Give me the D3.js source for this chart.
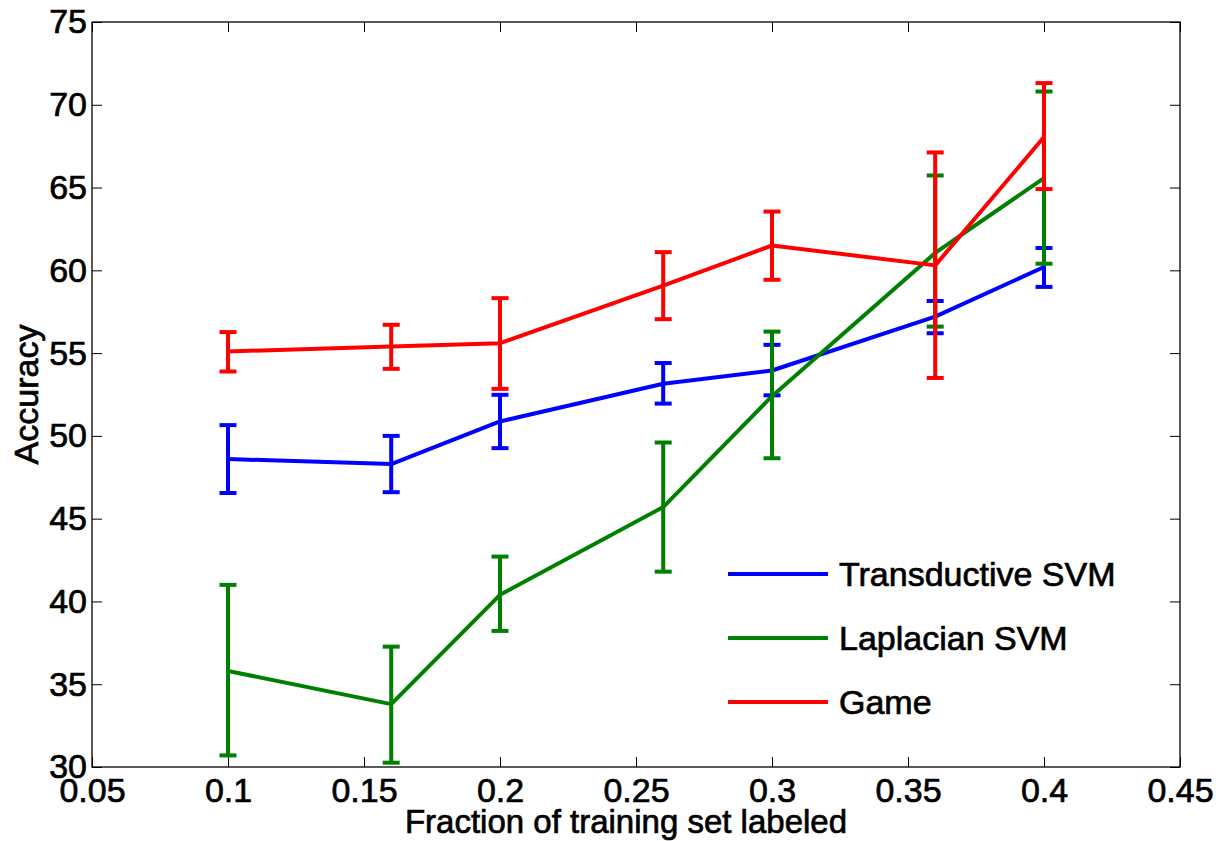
<!DOCTYPE html>
<html>
<head>
<meta charset="utf-8">
<script src="https://cdn.jsdelivr.net/npm/d3@7"></script>
<style>
  body { margin: 0; background: #fff; }
  text { font-family: "Liberation Sans", Arial, Helvetica, sans-serif; fill: #000; stroke: #000; stroke-width: 0.7px; }
</style>
</head>
<body>
<div id="chart"></div>
<script>
// fraction of training set labeled
var xValues = [0.1, 0.16, 0.2, 0.26, 0.3, 0.36, 0.4];

// Transductive SVM
var tsvmMean = [48.6, 48.3, 50.87, 53.15, 53.95, 57.2, 60.2];
var tsvmLow  = [46.55, 46.6, 49.26, 51.95, 52.45, 56.2, 59.0];
var tsvmHigh = [50.65, 50.0, 52.48, 54.4, 55.5, 58.15, 61.35];

// Laplacian SVM
var lapMean = [35.8, 33.8, 40.4, 45.7, 52.4, 61.05, 65.57];
var lapLow  = [30.7, 30.26, 38.22, 41.8, 48.65, 56.6, 60.4];
var lapHigh = [41.0, 37.27, 42.71, 49.6, 56.3, 65.73, 70.8];

// Game
var gameMean = [55.1, 55.4, 55.6, 59.07, 61.5, 60.3, 68.05];
var gameLow  = [53.89, 54.05, 52.84, 57.05, 59.43, 53.5, 64.91];
var gameHigh = [56.27, 56.71, 58.32, 61.1, 63.55, 67.12, 71.31];

var seriesNames = ["Transductive SVM", "Laplacian SVM", "Game"];
var xTicks = [0.05, 0.1, 0.15, 0.2, 0.25, 0.3, 0.35, 0.4, 0.45];
var yTicks = [30, 35, 40, 45, 50, 55, 60, 65, 70, 75];

var svgWidth = 1216;
var svgHeight = 841;

var margin = {
  top: 22,
  right: 36,
  bottom: 74,
  left: 92
};

var width = svgWidth - margin.left - margin.right;
var height = svgHeight - margin.top - margin.bottom;

var svg = d3.select("#chart")
  .append("svg")
  .attr("width", svgWidth)
  .attr("height", svgHeight);

var chartGroup = svg.append("g")
  .attr("transform", `translate(${margin.left}, ${margin.top})`);

var xScale = d3.scaleLinear()
  .domain([0.05, 0.45])
  .range([0, width]);

var yScale = d3.scaleLinear()
  .domain([30, 75])
  .range([height, 0]);

var fontSize = 34;

// axes with inward ticks
var bottomAxis = d3.axisBottom(xScale)
  .tickValues(xTicks)
  .tickSize(-10)
  .tickPadding(11)
  .tickFormat(d3.format("~g"));

var leftAxis = d3.axisLeft(yScale)
  .tickValues(yTicks)
  .tickSize(-10)
  .tickPadding(5);

chartGroup.append("g")
  .attr("transform", `translate(0, ${height})`)
  .call(bottomAxis);

chartGroup.append("g")
  .call(leftAxis);

chartGroup.append("g")
  .call(d3.axisTop(xScale).tickValues(xTicks).tickSize(-10).tickFormat(""));

chartGroup.append("g")
  .attr("transform", `translate(${width}, 0)`)
  .call(d3.axisRight(yScale).tickValues(yTicks).tickSize(-10).tickFormat(""));

chartGroup.selectAll(".domain").remove();
chartGroup.selectAll(".tick line").attr("stroke", "#000").attr("stroke-width", 1);
chartGroup.selectAll(".tick text")
  .attr("font-size", fontSize)
  .attr("font-family", "Liberation Sans, Arial, sans-serif");

chartGroup.append("rect")
  .attr("width", width)
  .attr("height", height)
  .attr("fill", "none")
  .attr("stroke", "#000")
  .attr("stroke-width", 1.3);

// series
var series = [
  {name: seriesNames[0], color: "#0000ff", mean: tsvmMean, low: tsvmLow, high: tsvmHigh},
  {name: seriesNames[1], color: "#008000", mean: lapMean, low: lapLow, high: lapHigh},
  {name: seriesNames[2], color: "#ff0000", mean: gameMean, low: gameLow, high: gameHigh}
];

var line = d3.line()
  .x(d => xScale(d.x))
  .y(d => yScale(d.y));

var capHalf = 8.5;

series.forEach(function(s) {
  var pts = xValues.map(function(x, i) {
    return {x: x, y: s.mean[i], lo: s.low[i], hi: s.high[i]};
  });

  var g = chartGroup.append("g");

  g.append("path")
    .datum(pts)
    .attr("d", line)
    .attr("fill", "none")
    .attr("stroke", s.color)
    .attr("stroke-width", 4)
    .attr("stroke-linejoin", "round");

  g.selectAll(".bar")
    .data(pts)
    .enter()
    .append("line")
    .attr("x1", d => xScale(d.x))
    .attr("x2", d => xScale(d.x))
    .attr("y1", d => yScale(d.lo))
    .attr("y2", d => yScale(d.hi))
    .attr("stroke", s.color)
    .attr("stroke-width", 4);

  g.selectAll(".capHi")
    .data(pts)
    .enter()
    .append("line")
    .attr("x1", d => xScale(d.x) - capHalf)
    .attr("x2", d => xScale(d.x) + capHalf)
    .attr("y1", d => yScale(d.hi))
    .attr("y2", d => yScale(d.hi))
    .attr("stroke", s.color)
    .attr("stroke-width", 4);

  g.selectAll(".capLo")
    .data(pts)
    .enter()
    .append("line")
    .attr("x1", d => xScale(d.x) - capHalf)
    .attr("x2", d => xScale(d.x) + capHalf)
    .attr("y1", d => yScale(d.lo))
    .attr("y2", d => yScale(d.lo))
    .attr("stroke", s.color)
    .attr("stroke-width", 4);
});

// legend
var legend = svg.append("g")
  .attr("transform", "translate(728, 574)");

series.forEach(function(s, i) {
  var row = legend.append("g")
    .attr("transform", `translate(0, ${i * 64})`);
  row.append("line")
    .attr("x1", 0)
    .attr("x2", 100)
    .attr("stroke", s.color)
    .attr("stroke-width", 4);
  row.append("text")
    .attr("x", 111)
    .attr("dy", "0.35em")
    .attr("font-size", fontSize)
    .text(s.name);
});

// axis titles
svg.append("text")
  .attr("transform", "rotate(-90)")
  .attr("x", -(margin.top + height / 2))
  .attr("y", 38)
  .attr("text-anchor", "middle")
  .attr("font-size", fontSize)
  .text("Accuracy");

svg.append("text")
  .attr("x", 626)
  .attr("y", 833)
  .attr("text-anchor", "middle")
  .attr("font-size", 33)
  .text("Fraction of training set labeled");
</script>
</body>
</html>
